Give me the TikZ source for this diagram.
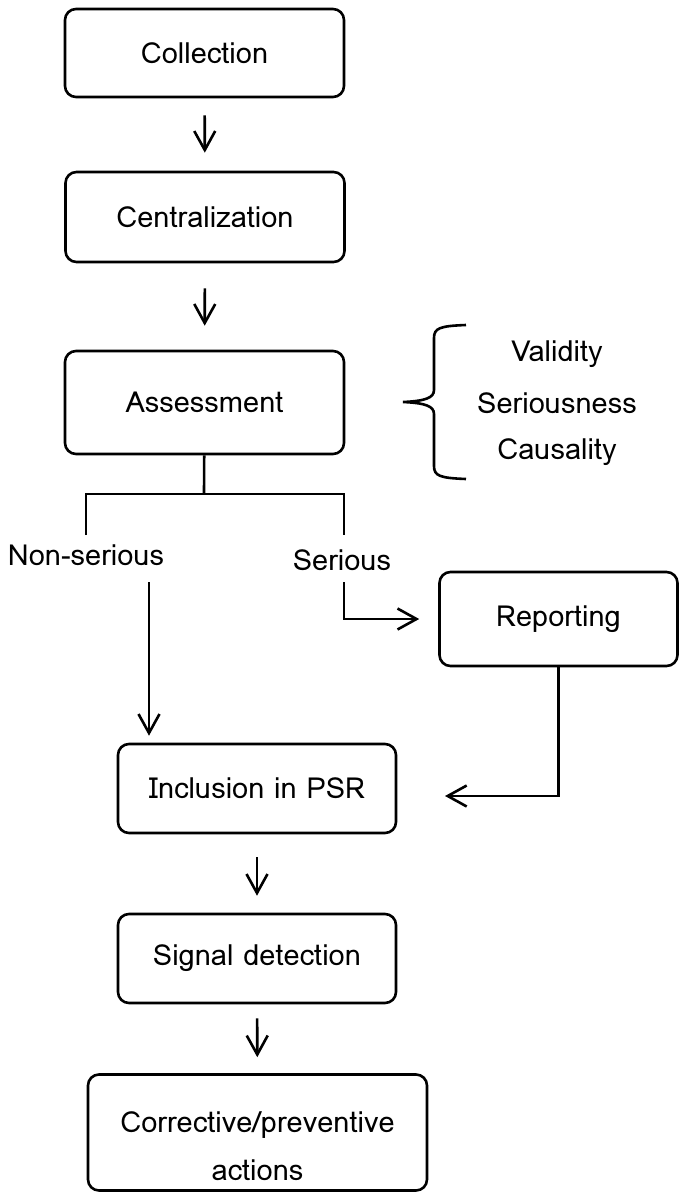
\documentclass[tikz,border=0pt]{standalone}
\usepackage{fontspec}
\setmainfont{Loma}
\usetikzlibrary{arrows.meta}

\tikzset{
  procbox/.style={draw, rounded corners=11pt, line width=2.6pt, minimum width=279pt, minimum height=88pt, align=center},
  flowarrow/.style={line width=2.6pt, -{Straight Barb[length=19pt,width=21pt,line width=2.6pt]}},
  flowline/.style={line width=2.6pt},
}

\begin{document}
\begin{tikzpicture}[x=1pt,y=-1pt,font=\fontsize{29}{48}\selectfont]
  \useasboundingbox (0,0) rectangle (679,1193);

% main column
  \node[procbox] (coll)   at (204.5,53)  {Collection};
  \node[procbox, minimum height=90pt] (cent) at (205,217) {Centralization};
  \node[procbox, minimum height=103pt] (assess) at (204.5,402.5) {Assessment};
  \node[procbox, minimum width=238pt, minimum height=94pt] (report) at (558.5,619) {Reporting};
  \node[procbox, minimum width=278pt, minimum height=89pt] (incl)   at (257,788.5) {Inclusion in PSR};
  \node[procbox, minimum width=278pt, minimum height=89pt] (signal) at (257,958.5) {Signal detection};
  \node[procbox, minimum width=339pt, minimum height=116pt] (correct) at (257.5,1132.5) {};
  \node[align=center] (correcttxt) at (257.5,1146) {Corrective/preventive\\actions};

% arrows between boxes
  \draw[flowarrow, shorten <=17pt, shorten >=18pt] (coll) -- (cent);
  \draw[flowarrow, shorten <=25pt, shorten >=24pt] (cent) -- (assess);
  \draw[flowarrow, shorten <=23pt, shorten >=17pt] (incl) -- (signal);
  \draw[flowarrow, shorten <=14pt, shorten >=16pt] (signal) -- (correct);

% criteria with brace
  \coordinate (bracetip) at (403,402);
  \draw[flowline] (466,325) .. controls (440,326) and (434,328) .. (434,338) -- (434,390)
                  .. controls (434,398) and (425,401) .. (bracetip)
                  .. controls (425,403) and (434,406) .. (434,414) -- (434,466)
                  .. controls (434,476) and (440,478) .. (466,479);
  \node (valid)  at (557,354) {Validity};
  \node (serness) at (557,403) {Seriousness};
  \node (causal) at (557,452) {Causality};

% split after assessment
  \coordinate (split)  at (204,494);
  \coordinate (nsdrop) at (86,535);
  \coordinate (sdrop)  at (344,535);
  \draw[flowline] (assess) -- (split);
  \draw[flowline] (nsdrop) |- (split) -| (sdrop);
  \node (nonser) at (86,555)  {Non-serious};
  \node (ser)    at (342,560) {Serious};

% branches
  \coordinate (nsfrom) at (149,582);
  \coordinate (sfrom)  at (344,582);
  \coordinate (back)   at (445,796);
  \draw[flowarrow, shorten >=7pt] (nsfrom) -- (nsfrom |- incl.north);
  \draw[flowarrow, shorten >=19pt] (sfrom) |- (report.west);
  \draw[flowarrow] (report.south) |- (back);

\end{tikzpicture}
\end{document}
